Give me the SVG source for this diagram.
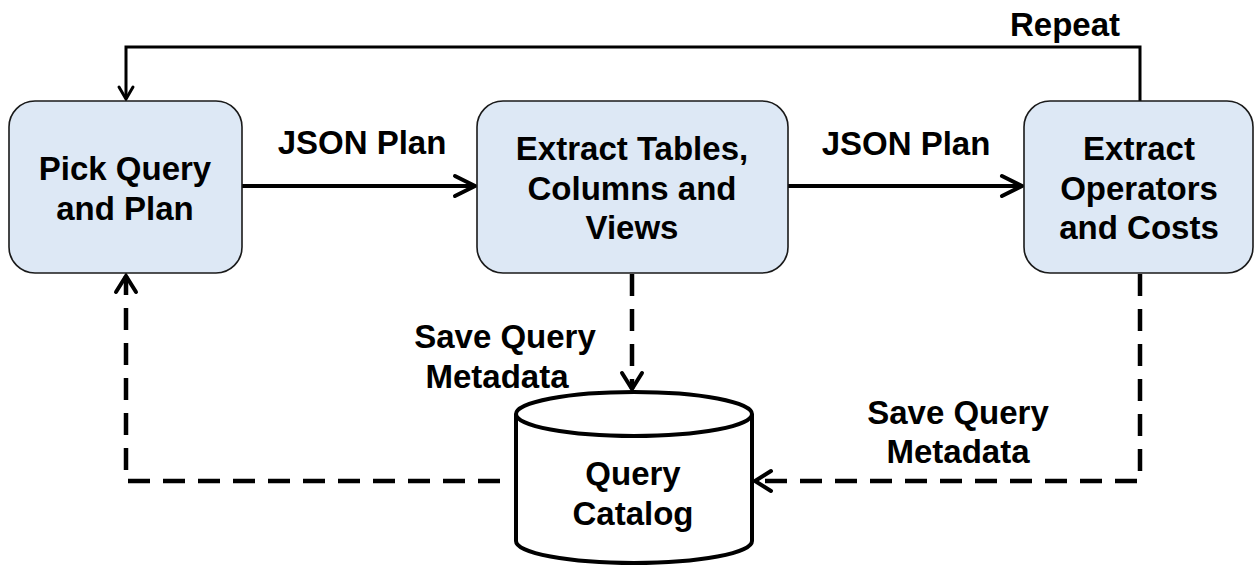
<svg xmlns="http://www.w3.org/2000/svg" width="1255" height="565" viewBox="0 0 1255 565">
  <style>
    .box { fill: #dde8f5; stroke: #1a1a1a; stroke-width: 1.6; }
    .db { fill: #ffffff; stroke: #000; stroke-width: 4; }
    .t { font-family: "Liberation Sans", Arial, sans-serif; font-weight: bold; font-size: 33px; fill: #000; text-anchor: middle; }
    .solid { fill: none; stroke: #000; stroke-width: 4; }
    .thin { fill: none; stroke: #000; stroke-width: 3; }
    .dash { fill: none; stroke: #000; stroke-width: 4.5; stroke-dasharray: 22 13; }
  </style>
  <defs>
    <marker id="arrow" markerUnits="userSpaceOnUse" viewBox="-2 -2 26 26" markerWidth="26" markerHeight="26" refX="20" refY="10" orient="auto" overflow="visible">
      <path d="M0,0 L20,10 L0,20" fill="none" stroke="#000" stroke-width="4" stroke-linecap="round" stroke-linejoin="miter"/>
    </marker>
    <marker id="arrowThin" markerUnits="userSpaceOnUse" viewBox="-2 -2 18 18" markerWidth="18" markerHeight="18" refX="12" refY="7" orient="auto" overflow="visible">
      <path d="M0,0 L12,7 L0,14" fill="none" stroke="#000" stroke-width="3" stroke-linecap="round"/>
    </marker>
    <marker id="arrowDash" markerUnits="userSpaceOnUse" viewBox="-2 -2 22 24" markerWidth="22" markerHeight="24" refX="16" refY="10" orient="auto" overflow="visible">
      <path d="M0,0 L16,10 L0,20" fill="none" stroke="#000" stroke-width="4" stroke-linecap="round"/>
    </marker>
  </defs>

  <!-- connectors -->
  <g id="connectors">
    <path class="solid" d="M242,186 L475,186" marker-end="url(#arrow)"/>
    <path class="solid" d="M788,186 L1022,186" marker-end="url(#arrow)"/>
    <path class="thin" d="M1140,101 L1140,47 L126,47 L126,99" marker-end="url(#arrowThin)"/>
    <path class="dash" d="M632,274 L632,389" marker-end="url(#arrowDash)"/>
    <path class="dash" d="M500,481 L126,481 L126,276" marker-end="url(#arrowDash)"/>
    <path class="dash" d="M1140,274 L1140,481 L755,481" marker-end="url(#arrowDash)"/>
    <text class="t" x="362" y="154">JSON Plan</text>
    <text class="t" x="906" y="155">JSON Plan</text>
    <text class="t" x="1065" y="36">Repeat</text>
    <text class="t" x="505" y="348">Save Query</text>
    <text class="t" x="497" y="388">Metadata</text>
    <text class="t" x="958" y="424">Save Query</text>
    <text class="t" x="958" y="463">Metadata</text>
  </g>

  <!-- nodes -->
  <g id="pick-query">
    <rect class="box" x="9" y="101" width="233" height="172" rx="26" ry="26"/>
    <text class="t" x="125" y="180">Pick Query</text>
    <text class="t" x="125" y="220">and Plan</text>
  </g>
  <g id="extract-tables">
    <rect class="box" x="477" y="101" width="311" height="172" rx="26" ry="26"/>
    <text class="t" x="632" y="160">Extract Tables,</text>
    <text class="t" x="632" y="200">Columns and</text>
    <text class="t" x="632" y="239">Views</text>
  </g>
  <g id="extract-operators">
    <rect class="box" x="1024" y="101" width="229" height="172" rx="26" ry="26"/>
    <text class="t" x="1139" y="160">Extract</text>
    <text class="t" x="1139" y="200">Operators</text>
    <text class="t" x="1139" y="239">and Costs</text>
  </g>
  <g id="query-catalog">
    <path class="db" d="M516,414 A118,22 0 0 1 752,414 L752,541 A118,22 0 0 1 516,541 Z"/>
    <path class="db" d="M516,414 A118,22 0 0 0 752,414" fill="none"/>
    <text class="t" x="633" y="485">Query</text>
    <text class="t" x="633" y="525">Catalog</text>
  </g>
</svg>
